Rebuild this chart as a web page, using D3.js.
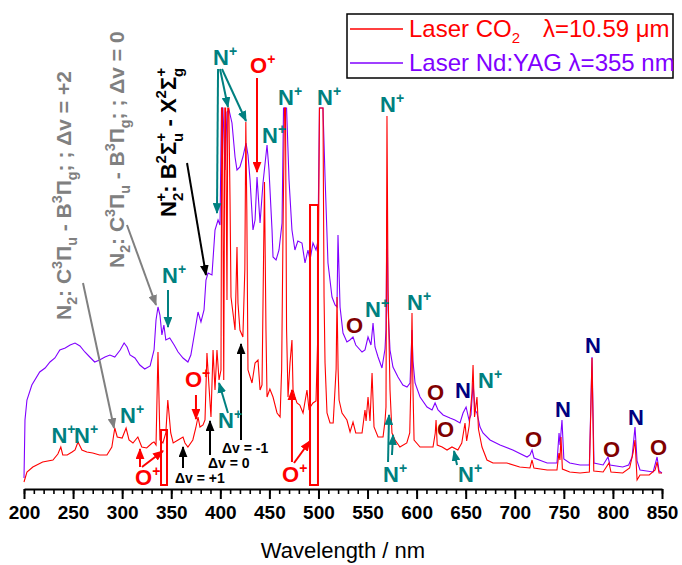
<!DOCTYPE html>
<html>
<head>
<meta charset="utf-8">
<script src="https://cdn.jsdelivr.net/npm/d3@7"></script>
<style>
  html, body { margin: 0; padding: 0; background: #fff; }
  svg { display: block; font-family: "Liberation Sans", Arial, Helvetica, sans-serif; }
</style>
</head>
<body>
<svg id="chart" width="682" height="565"></svg>
<script>
// Emission spectra of the plasma (a.u.) for the two laser sources
const wavelengthCO2 = [200,203,209,219,229.5,234.5,237.5,239.5,244,249,252,255,259,264,270,277,284.5,289.5,292.5,295,300,304,307,311,316,320,325,330.5,332.5,334.5,336.5,338.5,341.5,344.5,346.5,349.5,352,357,362,364,367,372,375,377.3,379.3,382.4,384.4,386.4,388.5,390.5,392.6,394.6,396.6,398.7,400.7,401.5,402.2,403.5,404.6,405.4,406.8,407.6,408.7,409.9,410.9,412.9,415,417,418,420,423,425,426,427,428.2,432.3,435.4,438.4,440.5,442.5,445,446.5,447.6,450.5,453.7,457.8,460.9,462.5,463.9,465.4,466.4,467.5,469,471,473,474.1,476.1,478.1,481,484.3,488.3,490.3,494.4,497.5,499.5,501,504.6,505.7,506.7,508.7,511.8,515,518,518.9,520,521,524,529,532.2,535.2,538,544.4,547.4,548.5,550.5,552.5,554.6,556.6,560.7,565.8,567.8,568.8,569.8,570.9,572.9,574.9,578,583,590,593,594.5,595.3,596.3,597.4,603.5,610,616.7,619,619.8,621,626,631,636,642,646,649.3,651,653.5,656.4,657.5,659,661.5,663,666.6,671.7,677.8,692,705,715.5,717.6,719.5,733,743,745,746,747.1,748.5,756,766.5,776,778.7,780.5,790,796,798,810,817,820.5,822.5,824.6,827.6,837,843,845,847,850];
const intensityCO2 = [1.75,4.25,5.5,6.75,7.25,8.75,10.5,8.5,8.5,9.25,9.75,11.75,9.75,9.25,9,8.5,8.5,10.5,15.25,13,12.75,15.25,12.25,11.5,13,10.5,10.25,11.5,11.75,11,34.25,12.25,11.5,14,22.25,14,11.5,12.25,13,11.5,10.5,12.25,15.25,18,15.5,16,17.25,34,25.5,18,34.75,24.75,34.75,27.25,29.75,95.25,95.25,27.25,95.25,95.25,47.25,95.25,95.25,72.25,48,44,39.75,60.5,46.5,39.75,38,55,91.75,70,29.75,26.5,31.5,32.25,24.75,26,76.75,40,23,25,23,19,18,30,64.75,95.25,95.25,40,23,31.5,37.25,24.75,23,21.5,21,19,24.75,20,21.5,22,40,95.25,95.25,48,31.5,19,16.5,16.5,30,48,30,22.25,19,17.25,14.25,16.75,14,14,19.75,17,23,17,29,15.5,13,13,17,20.5,93.25,50,24.75,14,12.25,10.5,11.5,14,30,44,25,12.25,10.5,10.5,10.5,14,17.25,11,10.5,9.75,10.5,9.75,11.5,16.5,12,15.75,24,31,18,23,15,10.5,7.25,6.5,6.5,5.5,5.25,7.25,5.25,4.75,4.75,9,7.25,13,5,4.25,4,4.25,32.75,4.5,4.25,6.5,4.25,4,5.25,9,12.25,2.25,3.5,3.5,4.75,6.75,4,4];

const wavelengthYAG = [200,201,203,208,216,221.5,226.5,231.5,236.5,242,247,252,257,262,267,272,277,282.5,287.5,292.5,298,302,305,308,313,318,323,328.5,332.5,334.5,336.5,338.5,340.5,342.5,344.5,348.5,353,357,362,367,370,374,377.3,380.3,383.4,385.4,387.5,391.5,394.6,397.7,399.7,401.2,402.7,404.8,406.8,408.9,411.9,415,417,420,423,426.2,428.2,430.3,433.3,435.4,437.4,440.5,443.5,447.6,449.6,452.7,453.7,456.8,459.8,462.9,464.4,467.5,470,473,476,479,483.2,486.3,489.3,491.4,494.4,497.5,499.5,501,504.6,506.7,509.7,513.8,516.9,518.9,519.9,522,525,529,532,535.2,538,544.4,547.4,550.5,553.5,555.6,557.6,560.7,564.7,567.8,568.8,569.8,570.9,572.9,575.9,581,586,590.2,593.3,595.3,596.3,598.4,603.5,610.6,615.7,618.8,621.8,627,634,639,644.2,647.3,650.4,653.4,655.4,657.5,659.5,661.5,664.6,667.6,674.8,685,698,712.5,715.5,717.6,719.6,733,743,745.1,746.1,748.1,750,756,766.5,776,778.7,780.7,790,795,797,810,816,819.5,822.5,824.6,827.6,841,845,847,850];
const intensityYAG = [2.75,17.25,22.25,26,29.25,30.25,31.75,32.75,34.75,35.25,36,36.5,35.75,34.25,33,31.75,32.25,33,33.5,33,34.75,36.5,35.5,33.5,32.75,31,30,30.75,34.75,42.25,45.5,43.5,38.5,41,37.25,37.75,36,34.25,32.75,31.75,33.5,39.25,44.25,41.75,44.75,52.25,54,53.5,64.75,67.25,66,95.25,95.25,79.75,94.25,94.75,91.5,83,79.75,80.5,83,86.5,83.5,77.25,64.75,67.25,78,66.5,76.5,86,79.75,64.75,58,57.25,59.75,66.5,95.25,95.25,77.25,64.75,59.75,62,61.5,56.5,59.75,57.25,61.5,59.75,62,95.25,95.25,78,56.5,48,46,45.5,63.5,45.5,39,36.75,37.25,38,36,34.25,34.75,38,36,41.5,35.5,33,30.25,35,40,69.75,45,34.75,30.5,28,26,25.5,26.5,39.75,32,26.5,23,20.5,19.75,21.5,19.75,18.5,17.75,17.25,16.5,19,20.5,17.25,18.5,26.5,19.75,19,15.5,14,12.25,11,9.75,8,8.5,9.75,7.75,6.5,6.5,14,11,17.25,7.5,6.5,6,6,33,6.5,6,8,6,5.5,6,8,15.5,7,4.75,4.25,8,4.5,4];

const tickLabels = [200,250,300,350,400,450,500,550,600,650,700,750,800,850];
const minorTicks = d3.range(200, 851, 10);

const teal = "#008080", red = "#ff0000", purple = "#8000ff",
      maroon = "#800000", navy = "#000080", gray = "#808080";

const svg = d3.select("#chart");
const x = d3.scaleLinear().domain([200, 850]).range([24, 662]);
const y = d3.scaleLinear().domain([0, 100]).range([489, 89]);

// arrowhead markers
const defs = svg.append("defs");
[["teal", teal], ["red", red], ["black", "#000"], ["gray", gray]].forEach(([id, c]) => {
  defs.append("marker").attr("id", "ah-" + id)
    .attr("markerUnits", "userSpaceOnUse")
    .attr("viewBox", "0 0 10 8").attr("markerWidth", 11).attr("markerHeight", 9)
    .attr("refX", 9).attr("refY", 4).attr("orient", "auto")
    .append("path").attr("d", "M0,0L10,4L0,8Z").attr("fill", c);
});

// spectra
const line = d3.line().x(d => x(d[0])).y(d => y(d[1]));
const yagData = wavelengthYAG.map((w, i) => [w, intensityYAG[i]]);
const co2Data = wavelengthCO2.map((w, i) => [w, intensityCO2[i]]);
svg.append("path").datum(yagData).attr("d", line)
  .attr("fill", "none").attr("stroke", purple).attr("stroke-width", 1.1);
svg.append("path").datum(co2Data).attr("d", line)
  .attr("fill", "none").attr("stroke", red).attr("stroke-width", 1.1);

// bottom axis
const axisG = svg.append("g").attr("transform", `translate(0,${y(0)})`);
axisG.append("g").call(d3.axisBottom(x).tickValues(minorTicks).tickSize(5).tickFormat(""))
  .call(g => g.select(".domain").remove())
  .selectAll("line").attr("stroke", "#000").attr("stroke-width", 1.6);
const major = axisG.append("g").call(d3.axisBottom(x).tickValues(tickLabels).tickSize(10).tickSizeOuter(0).tickPadding(7));
major.select(".domain").attr("stroke", "#000").attr("stroke-width", 2);
major.selectAll(".tick line").attr("stroke", "#000").attr("stroke-width", 2);
major.selectAll(".tick text").attr("fill", "#000").attr("font-size", 19).attr("font-weight", "bold")
  .attr("font-family", "'Liberation Sans', Arial, sans-serif");

svg.append("text").attr("x", x(525)).attr("y", 558).attr("text-anchor", "middle")
  .attr("font-size", 22).attr("fill", "#000").text("Wavelength / nm");

// annotation rectangles
const boxes = [[339.6, 345.7, 1, 14.75], [491.4, 499.5, 1, 71]];
boxes.forEach(([w0, w1, v0, v1]) => {
  svg.append("rect").attr("x", x(w0)).attr("y", y(v1))
    .attr("width", x(w1) - x(w0)).attr("height", y(v0) - y(v1))
    .attr("fill", "none").attr("stroke", red).attr("stroke-width", 2);
});

// arrows: [from wavelength, from value, to wavelength, to value, colour id]
const arrows = [
  [346.7, 49.75, 346.7, 40.5, "teal"],
  [397.7, 105, 396.6, 69, "teal"],
  [399.7, 105, 407.8, 95.5, "teal"],
  [401.7, 105, 426.2, 92, "teal"],
  [407.8, 19, 398.7, 26.5, "teal"],
  [570.9, 6.75, 571.9, 18.5, "teal"],
  [574.9, 8.5, 576, 13.5, "teal"],
  [641.2, 6, 638.1, 9.5, "teal"],
  [437.4, 102.75, 437.4, 79.25, "red"],
  [375.2, 23.5, 375.2, 17.5, "red"],
  [318.2, 5.5, 318.2, 10, "red"],
  [320.2, 5.5, 341.6, 9.5, "red"],
  [473, 6.75, 473, 24.75, "red"],
  [475.1, 6.5, 491.4, 12, "red"],
  [362, 5.25, 362, 10.5, "black"],
  [389.5, 8.5, 389.5, 17, "black"],
  [421.1, 12.25, 421.1, 36.25, "black"],
  [366.1, 81.5, 385.4, 53.5, "black"],
  [260.1, 51.5, 291.7, 15.25, "gray"],
  [304.9, 66, 334.5, 46, "gray"]
];
const colourOf = { teal: teal, red: red, black: "#000", gray: gray };
arrows.forEach(([w0, v0, w1, v1, c]) => {
  svg.append("line").attr("x1", x(w0)).attr("y1", y(v0)).attr("x2", x(w1)).attr("y2", y(v1))
    .attr("stroke", colourOf[c]).attr("stroke-width", 2).attr("marker-end", `url(#ah-${c})`);
});

// species labels: [text, superscript, wavelength, value]
const nIonLabels = [
  ["N", "+", 228, 11.5], ["N", "+", 251, 11.5], ["N", "+", 297.8, 16.5],
  ["N", "+", 340.6, 51.5], ["N", "+", 392.6, 106], ["N", "+", 442.5, 86.5],
  ["N", "+", 458.8, 96], ["N", "+", 498.5, 96], ["N", "+", 562.7, 94.25],
  ["N", "+", 547.4, 43], ["N", "+", 590.2, 44.75], ["N", "+", 397.7, 15.25],
  ["N", "+", 565.8, 1.75], ["N", "+", 642.2, 1.75], ["N", "+", 662.6, 25.25]
];
const oIonLabels = [
  ["O", "+", 313.1, 1], ["O", "+", 364, 25.5], ["O", "+", 462.9, 1.75], ["O", "+", 430.3, 104]
];
const oAtomLabels = [
  ["O", "", 528.1, 39], ["O", "", 610.6, 22.25], ["O", "", 620.8, 13],
  ["O", "", 710.4, 10.5], ["O", "", 789.9, 8], ["O", "", 837.8, 8.5]
];
const nAtomLabels = [
  ["N", "", 639.1, 22.75], ["N", "", 741, 18], ["N", "", 771.6, 34], ["N", "", 815.4, 16]
];
function species(list, colour) {
  list.forEach(([t, s, w, v]) => {
    const el = svg.append("text").attr("x", x(w)).attr("y", y(v))
      .attr("fill", colour).attr("font-weight", "bold").attr("font-size", 22);
    el.append("tspan").text(t);
    if (s) el.append("tspan").attr("font-size", 14).attr("dy", -9).text(s);
  });
}
species(nIonLabels, teal);
species(oIonLabels, red);
species(oAtomLabels, maroon);
species(nAtomLabels, navy);

// vibrational sequence labels
const deltaLabels = [["Δv = +1", 353.8, 1.5], ["Δv = 0", 387.5, 5.25], ["Δv = -1", 401.7, 9]];
deltaLabels.forEach(([t, w, v]) => {
  svg.append("text").attr("x", x(w)).attr("y", y(v)).attr("font-size", 14)
    .attr("font-weight", "bold").attr("fill", "#000").text(t);
});

// rotated band-system labels built from segments (kind: n normal, b sub, p sup, bp sub+sup stacked)
function bandLabel(w, v, colour, size, segs) {
  const t = svg.append("text")
    .attr("transform", `translate(${x(w)},${y(v)}) rotate(-90)`)
    .attr("fill", colour).attr("font-weight", "bold").attr("font-size", size);
  const small = size * 0.68;
  let shift = 0;
  segs.forEach(([kind, s, s2]) => {
    if (kind === "n") {
      t.append("tspan").attr("dy", -shift).text(s); shift = 0;
    } else if (kind === "b") {
      t.append("tspan").attr("dy", size * 0.3 - shift).attr("font-size", small).text(s); shift = size * 0.3;
    } else if (kind === "p") {
      t.append("tspan").attr("dy", -size * 0.45 - shift).attr("font-size", small).text(s); shift = -size * 0.45;
    } else if (kind === "bp") {
      t.append("tspan").attr("dy", size * 0.3 - shift).attr("font-size", small).text(s);
      t.append("tspan").attr("dy", -size * 0.75).attr("dx", -small * 0.58).attr("font-size", small).text(s2);
      shift = -size * 0.45;
    }
  });
}
bandLabel(247.9, 42.25, gray, 21, [["n", "N"], ["b", "2"], ["n", ": C"], ["p", "3"], ["n", "Π"], ["b", "u"], ["n", " - B"], ["p", "3"], ["n", "Π"], ["b", "g"], ["n", "; ; Δv = +2"]]);
bandLabel(301.9, 55.25, gray, 21, [["n", "N"], ["b", "2"], ["n", ": C"], ["p", "3"], ["n", "Π"], ["b", "u"], ["n", " - B"], ["p", "3"], ["n", "Π"], ["b", "g"], ["n", "; ; Δv = 0"]]);
bandLabel(354.9, 68, "#000", 22, [["n", "N"], ["bp", "2", "+"], ["n", ": B"], ["p", "2"], ["n", "Σ"], ["bp", "u", "+"], ["n", " - X"], ["p", "2"], ["n", "Σ"], ["bp", "g", "+"]]);

// legend
const leg = svg.append("g");
leg.append("rect").attr("x", 347).attr("y", 14).attr("width", 326).attr("height", 64)
  .attr("fill", "#fff").attr("stroke", "#000").attr("stroke-width", 1.5);
const legendItems = [
  { colour: red, yy: 29, parts: [["Laser CO", ""], ["2", "sub"]], extra: "λ=10.59 μm" },
  { colour: purple, yy: 63, parts: [["Laser Nd:YAG λ=355 nm", ""]], extra: null }
];
legendItems.forEach(d => {
  leg.append("line").attr("x1", 350).attr("x2", 403).attr("y1", d.yy).attr("y2", d.yy)
    .attr("stroke", d.colour).attr("stroke-width", 1.3);
  const t = leg.append("text").attr("x", 409).attr("y", d.yy + 8).attr("fill", d.colour).attr("font-size", 24);
  d.parts.forEach(([s, k]) => {
    const ts = t.append("tspan").text(s);
    if (k === "sub") ts.attr("font-size", 15).attr("dy", 6);
  });
  if (d.extra) leg.append("text").attr("x", 543).attr("y", d.yy + 8).attr("fill", d.colour)
    .attr("font-size", 24).text(d.extra);
});
</script>
</body>
</html>
